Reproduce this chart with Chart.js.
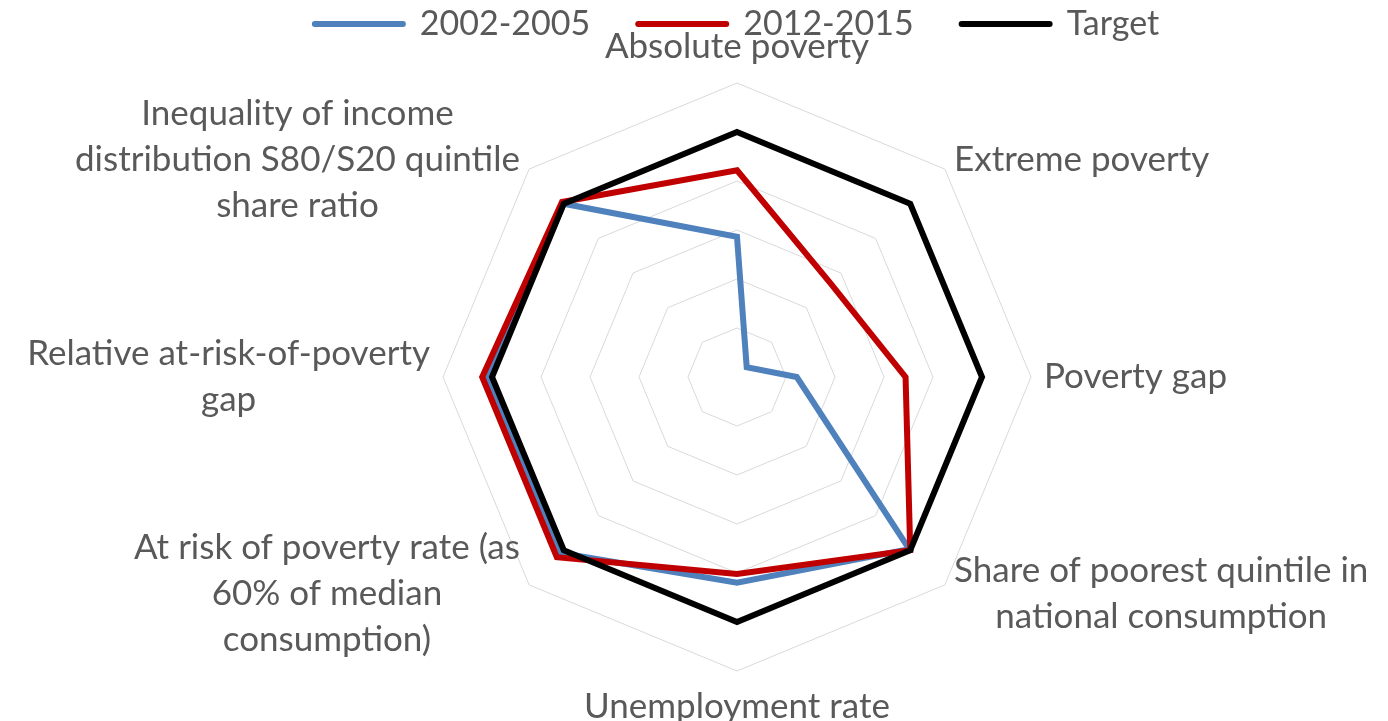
<!DOCTYPE html>
<html>
<head>
<meta charset="utf-8">
<script src="https://cdn.jsdelivr.net/npm/chart.js@4/dist/chart.umd.min.js"></script>
<style>
  html, body { margin: 0; padding: 0; background: #fff; }
  #wrap { width: 1388px; height: 721px; position: relative; }
</style>
</head>
<body>
<div id="wrap"><canvas id="povertyRadar"></canvas></div>
<script>
// Poverty indicators radar //
// categories, clockwise from the top (each entry = lines of the label)
const categories = [
    ['Absolute poverty'],
    ['Extreme poverty'],
    ['Poverty gap'],
    ['Share of poorest quintile in', 'national consumption'],
    ['Unemployment rate'],
    ['At risk of poverty rate (as', '60% of median', 'consumption)'],
    ['Relative at-risk-of-poverty', 'gap'],
    ['Inequality of income', 'distribution S80/S20 quintile', 'share ratio']
];

const seriesNames = ['2002-2005', '2012-2015', 'Target'];
const values2002 = [2.86, 0.28, 1.22, 4.97, 4.2, 5.08, 5.12, 5.0];
const values2012 = [4.22, 2.7, 3.44, 5.0, 4.02, 5.2, 5.2, 5.05];
const valuesTarget = [5, 5, 5, 5, 5, 5, 5, 5];

const scaleTicks = [0, 1, 2, 3, 4, 5, 6];

const TEXT_GREY = '#595959';
const FONT = 'Lato, "Open Sans", sans-serif';
const LABEL_SIZE = 35;
const LABEL_LINE = 46;
const LABEL_GAP = 13;
const LABEL_ROOM = 32;

// draws the axis labels as centred blocks next to each spoke end
const centeredPointLabels = {
    id: 'centeredPointLabels',
    afterDraw(chart) {
        const scale = chart.scales.r;
        const ctx = chart.ctx;
        ctx.save();
        ctx.font = LABEL_SIZE + 'px ' + FONT;
        ctx.fillStyle = TEXT_GREY;
        ctx.textAlign = 'center';
        ctx.textBaseline = 'middle';
        categories.forEach((lines, i) => {
            const angle = scale.getIndexAngle(i);
            const pos = scale.getPointPosition(i, scale.drawingArea + LABEL_GAP);
            const ux = Math.sin(angle);
            const uy = -Math.cos(angle);
            const w = Math.max(...lines.map(s => ctx.measureText(s).width));
            const h = lines.length * LABEL_LINE;
            let cx = pos.x, cy = pos.y;
            if (Math.abs(ux) > 0.1) cx += Math.sign(ux) * w / 2;
            if (Math.abs(uy) > 0.9) cy += Math.sign(uy) * h / 2;
            lines.forEach((s, k) => {
                ctx.fillText(s, cx, cy - h / 2 + LABEL_LINE * (k + 0.5));
            });
        });
        ctx.restore();
    }
};

function makeDataset(label, data, color, order) {
    return {
        label: label,
        data: data,
        borderColor: color,
        backgroundColor: color,
        borderWidth: 6,
        borderJoinStyle: 'miter',
        fill: false,
        pointRadius: 0,
        pointHoverRadius: 0,
        pointBorderWidth: 6,
        pointBorderColor: color,
        pointBackgroundColor: color,
        order: order
    };
}

function renderRadar() {
    const ctx = document.getElementById('povertyRadar').getContext('2d');
    new Chart(ctx, {
        type: 'radar',
        data: {
            labels: categories,
            datasets: [
                makeDataset(seriesNames[0], values2002, '#4F81BD', 3),
                makeDataset(seriesNames[1], values2012, '#C00000', 2),
                makeDataset(seriesNames[2], valuesTarget, '#000000', 1)
            ]
        },
        options: {
            responsive: true,
            maintainAspectRatio: false,
            animation: false,
            layout: {
                padding: { top: -41, left: 86, right: 0, bottom: 18 }
            },
            plugins: {
                legend: {
                    position: 'top',
                    labels: {
                        usePointStyle: true,
                        pointStyle: 'line',
                        pointStyleWidth: 88,
                        padding: 48,
                        color: TEXT_GREY,
                        font: { family: FONT, size: 34 },
                        sort: (a, b) => a.datasetIndex - b.datasetIndex,
                        generateLabels: (chart) =>
                            Chart.defaults.plugins.legend.labels.generateLabels(chart)
                                .map(item => Object.assign(item, { lineCap: 'round', lineWidth: 6 }))
                    }
                },
                tooltip: { enabled: false }
            },
            scales: {
                r: {
                    min: scaleTicks[0],
                    max: scaleTicks[scaleTicks.length - 1],
                    ticks: { display: false, stepSize: 1 },
                    grid: { color: '#D9D9D9', lineWidth: 1 },
                    angleLines: { display: false },
                    pointLabels: { display: false },
                    afterFit: (scale) => scale.setCenterPoint(0, 0, LABEL_ROOM, LABEL_ROOM)
                }
            }
        },
        plugins: [centeredPointLabels]
    });
}

document.addEventListener('DOMContentLoaded', renderRadar);
</script>
</body>
</html>
